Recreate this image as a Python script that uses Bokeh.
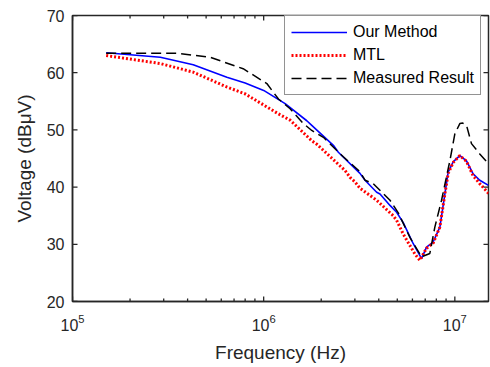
import math
from bokeh.plotting import figure
from bokeh.models import (FixedTicker, Legend, LegendItem)
from bokeh.embed import file_html
from bokeh.resources import INLINE

# ---- data ----
our_f = [1.5e5, 2.88e5, 4.28e5, 6.42e5, 8.0e5, 1.0e6, 1.295e6, 1.681e6, 1.785e6,
         2.315e6, 2.458e6, 3.19e6, 3.39e6, 3.9e6, 4.06e6, 4.58e6, 4.96e6, 5.37e6,
         6.06e6, 6.7e6, 7.11e6, 7.7e6, 8.35e6, 8.87e6, 9.23e6, 9.8e6, 1.062e7,
         1.151e7, 1.246e7, 1.35e7, 1.5e7]
our_v = [63.5, 62.7, 61.4, 59.2, 58.2, 56.9, 54.6, 51.6, 50.8,
         47.3, 46.1, 42.4, 41.2, 39.1, 38.8, 36.8, 35.6, 33.8,
         30.1, 27.5, 29.5, 30.4, 33.0, 38.8, 42.6, 44.4, 45.5,
         44.6, 42.3, 41.2, 40.3]

mtl_f = [1.5e5, 2.88e5, 4.28e5, 6.42e5, 8.0e5, 1.195e6, 1.375e6, 1.785e6, 1.896e6,
         2.665e6, 2.83e6, 3.005e6, 3.19e6, 3.9e6, 4.76e6, 4.96e6, 5.37e6, 6.18e6,
         6.56e6, 7.11e6, 7.7e6, 8.35e6, 8.87e6, 9.23e6, 9.8e6, 1.062e7, 1.151e7,
         1.246e7, 1.35e7, 1.5e7]
mtl_v = [63.0, 61.6, 60.1, 57.5, 56.3, 52.8, 51.7, 48.1, 47.5,
         42.9, 41.7, 40.9, 39.8, 37.7, 35.0, 34.2, 31.8, 28.3,
         27.2, 29.3, 30.2, 33.0, 38.8, 42.4, 44.3, 45.5, 44.5,
         42.0, 40.6, 38.9]

meas_f = [1.5e5, 2.5e5, 3.52e5, 5.25e5, 7.81e5, 1.039e6, 1.195e6, 1.375e6, 1.614e6,
          1.785e6, 2.053e6, 2.61e6, 3.19e6, 3.39e6, 3.745e6, 4.58e6, 5.06e6, 5.82e6,
          6.7e6, 7.4e6, 7.86e6, 8.52e6, 9.42e6, 1.0e7, 1.062e7, 1.1e7, 1.151e7,
          1.222e7, 1.35e7, 1.5e7]
meas_v = [63.4, 63.4, 63.4, 62.7, 60.7, 58.1, 55.4, 53.7, 51.1,
          49.9, 48.7, 45.3, 42.7, 41.2, 40.6, 37.7, 35.5, 31.2,
          27.8, 28.4, 33.0, 37.7, 44.6, 49.3, 51.1, 51.2, 50.8,
          47.6, 45.8, 44.1]

y_ticks = [20, 30, 40, 50, 60, 70]
x_major = [1e5, 1e6, 1e7]
minor_mult = [2, 3, 4, 5, 6, 7, 8, 9]
x_start, x_end = 1e5, 1.5e7
y_start, y_end = 20, 70

TXT = "#262626"
FONT = "Liberation Sans"

p = figure(frame_width=416, frame_height=286, x_axis_type="log",
           x_range=(x_start, x_end), y_range=(y_start, y_end),
           output_backend="svg", toolbar_location=None,
           min_border_left=72, min_border_right=2, min_border_top=15,
           min_border_bottom=64)
p.grid.visible = False
p.outline_line_color = TXT
p.outline_line_width = 1.5
p.background_fill_color = "white"
p.border_fill_color = "white"

r_our = p.line(our_f, our_v, line_color="#0000FF", line_width=1.6)
r_mtl = p.line(mtl_f, mtl_v, line_color="#FF0000", line_width=3, line_dash="2 2")
r_meas = p.line(meas_f, meas_v, line_color="black", line_width=1.5, line_dash="10 5")

# inward tick marks on all four sides (box style)
x_minor = [m * d for d in x_major for m in minor_mult if m * d <= x_end]
x_major_in = [v for v in x_major if v <= x_end]
for xs, ln in ((x_major_in, 5), (x_minor, 3)):
    n = len(xs)
    p.ray(x=xs, y=[y_start] * n, length=ln, length_units="screen",
          angle=math.pi / 2, line_color=TXT, line_width=1.3)
    p.ray(x=xs, y=[y_end] * n, length=ln, length_units="screen",
          angle=-math.pi / 2, line_color=TXT, line_width=1.3)
ny = len(y_ticks)
p.ray(x=[x_start] * ny, y=y_ticks, length=5, length_units="screen",
      angle=0, line_color=TXT, line_width=1.3)
p.ray(x=[x_end] * ny, y=y_ticks, length=5, length_units="screen",
      angle=math.pi, line_color=TXT, line_width=1.3)

def style_axis(ax):
    ax.axis_line_color = TXT
    ax.axis_line_width = 1.5
    ax.major_tick_line_color = None
    ax.minor_tick_line_color = None
    ax.major_tick_in = 0
    ax.major_tick_out = 0
    ax.minor_tick_in = 0
    ax.minor_tick_out = 0
    ax.major_label_text_color = TXT
    ax.major_label_text_font = FONT
    ax.major_label_text_font_size = "16px"
    ax.axis_label_text_color = TXT
    ax.axis_label_text_font = FONT
    ax.axis_label_text_font_style = "normal"
    ax.axis_label_text_font_size = "19px"

xa = p.xaxis[0]
style_axis(xa)
xa.ticker = FixedTicker(ticks=x_major)
xa.axis_label = "Frequency (Hz)"
xa.major_label_standoff = 12
xa.axis_label_standoff = 8

ya = p.yaxis[0]
style_axis(ya)
ya.ticker = FixedTicker(ticks=y_ticks)
ya.axis_label = "Voltage (dBμV)"
ya.major_label_standoff = 8
ya.axis_label_standoff = 9

legend = Legend(items=[
    LegendItem(label="Our Method", renderers=[r_our]),
    LegendItem(label="MTL", renderers=[r_mtl]),
    LegendItem(label="Measured Result", renderers=[r_meas]),
], location=(212, 206))
legend.label_text_font = FONT
legend.label_text_font_size = "16px"
legend.label_text_color = "black"
legend.border_line_color = TXT
legend.border_line_width = 1
legend.background_fill_alpha = 1
legend.padding = 6
legend.spacing = 3
legend.label_height = 20
legend.glyph_height = 20
legend.glyph_width = 56
legend.label_standoff = 6
legend.margin = 0
p.add_layout(legend, "center")

open("out.html", "w").write(file_html(p, INLINE))
